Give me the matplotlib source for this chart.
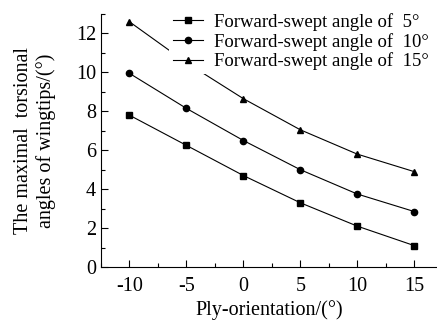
import matplotlib
matplotlib.use("Agg")
import matplotlib.pyplot as plt
from matplotlib.ticker import MultipleLocator

plt.rcParams['font.family'] = ['Liberation Serif', 'DejaVu Serif']

# data
ply = [-10, -5, 0, 5, 10, 15]
sweep5 = [7.8, 6.25, 4.7, 3.3, 2.1, 1.1]
sweep10 = [9.95, 8.15, 6.5, 5.0, 3.75, 2.85]
sweep15 = [12.6, 10.5, 8.65, 7.05, 5.8, 4.9]
labels = ["Forward-swept angle of  5°",
          "Forward-swept angle of  10°",
          "Forward-swept angle of  15°"]
xticklabels = ["-10", "-5", "0", "5", "10", "15"]

fig = plt.figure(figsize=(4.37, 3.22), dpi=100)
ax = fig.add_axes([101 / 437, 55 / 322, 336 / 437, 253 / 322])

ax.plot(ply, sweep5, color='black', lw=0.8, marker='s', ms=4.5, label=labels[0])
ax.plot(ply, sweep10, color='black', lw=0.8, marker='o', ms=4.5, label=labels[1])
ax.plot(ply, sweep15, color='black', lw=0.8, marker='^', ms=5, label=labels[2])

ax.set_xlim(-12.5, 17)
ax.set_ylim(0, 13)
ax.set_xticks(ply)
ax.set_xticklabels(xticklabels)
ax.xaxis.set_minor_locator(MultipleLocator(2.5))
ax.yaxis.set_major_locator(MultipleLocator(2))
ax.yaxis.set_minor_locator(MultipleLocator(1))
ax.tick_params(which='both', direction='in', labelsize=14.5, width=0.8)
ax.tick_params(which='major', length=5)
ax.tick_params(which='minor', length=3)
ax.tick_params(axis='x', pad=7)

ax.spines['top'].set_visible(False)
ax.spines['right'].set_visible(False)
ax.spines['left'].set_linewidth(0.8)
ax.spines['bottom'].set_linewidth(0.8)

ax.set_xlabel("Ply-orientation/(°)", fontsize=14.5, labelpad=3)
ax.set_ylabel("The maximal  torsional\nangles of wingtips/(°)", fontsize=14.5,
              labelpad=14, linespacing=1.25)

leg = ax.legend(loc='upper left', bbox_to_anchor=(160 / 437, 1.0),
                bbox_transform=fig.transFigure, fontsize=13.5,
                handlelength=1.6, handletextpad=0.6, labelspacing=0.1,
                borderpad=0.2, frameon=True, fancybox=False)
leg.get_frame().set_edgecolor('none')
leg.get_frame().set_facecolor('white')
leg.get_frame().set_alpha(1)

fig.savefig("out.png", dpi=100)
